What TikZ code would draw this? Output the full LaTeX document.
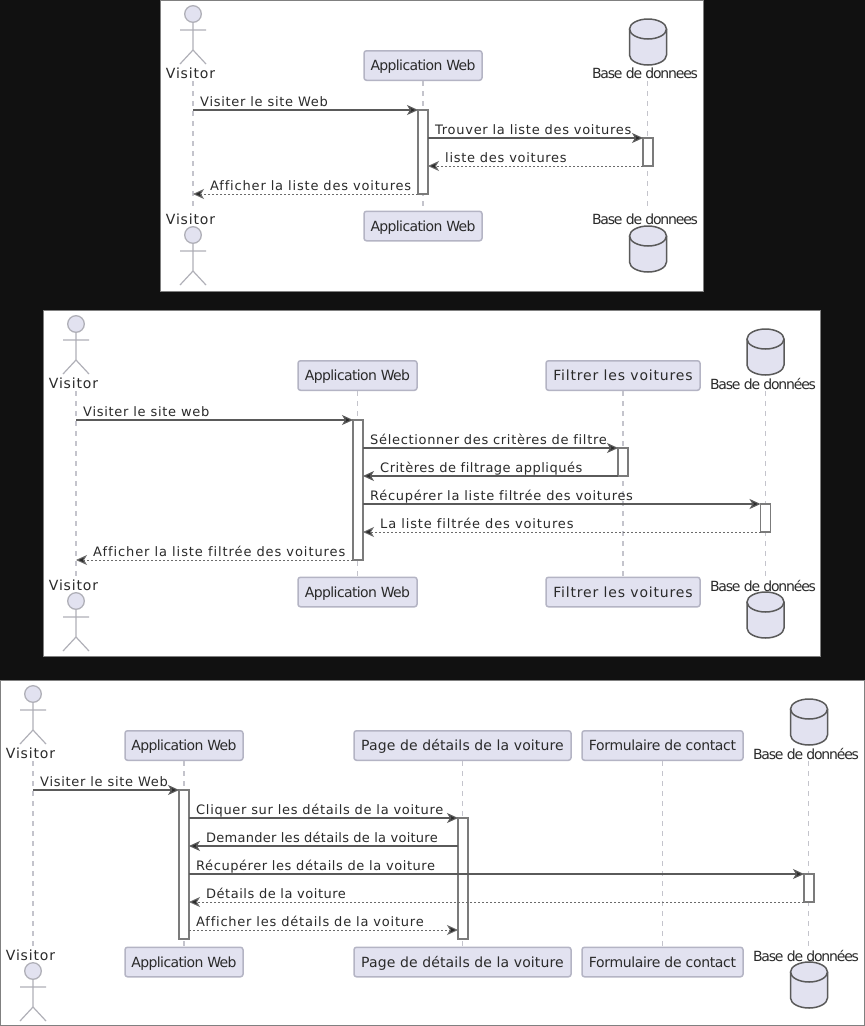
\documentclass[tikz,border=0pt]{standalone}
\usepackage{fontspec}
\setmainfont{DejaVu Sans}
\newfontfamily\msgfont[LetterSpace=5.5,Ligatures=NoCommon]{DejaVu Sans}
\newfontfamily\appfont[LetterSpace=-4.5]{DejaVu Sans}
\newfontfamily\sqfont[LetterSpace=-8.5]{DejaVu Sans}
\newfontfamily\filtfont[LetterSpace=5.9]{DejaVu Sans}
\newfontfamily\pagefont[LetterSpace=1.0]{DejaVu Sans}
\newfontfamily\formfont[LetterSpace=-2.5]{DejaVu Sans}
\newfontfamily\visfont[LetterSpace=6]{DejaVu Sans}
\newcommand{\spc}[1]{\addfontfeature{LetterSpace=#1,Ligatures=NoCommon}}
\usetikzlibrary{arrows.meta}
\definecolor{partfill}{HTML}{E2E2F0}
\definecolor{partline}{HTML}{B4B4C4}
\definecolor{darkline}{HTML}{5A5A5A}
\definecolor{inktext}{HTML}{2A2A2A}
\definecolor{lifegray}{HTML}{C4C4CC}
\definecolor{bgdark}{HTML}{111111}
\definecolor{panelline}{HTML}{808080}
\definecolor{figline}{HTML}{B0B0B8}
\tikzset{
  panel/.style={draw=panelline,fill=white,line width=1pt},
  partbox/.style={draw=partline,fill=partfill,line width=1.5pt,rounded corners=2.5pt,text=inktext,
    font=\fontsize{14}{16}\appfont,inner sep=0pt,minimum height=29.5pt,text height=12pt,text depth=2pt},
  lifeline/.style={draw=lifegray,line width=1.3pt,dash pattern=on 5pt off 5pt},
  actortext/.style={text=inktext,font=\fontsize{14}{16}\visfont,inner sep=0pt},
  dbtext/.style={text=inktext,font=\fontsize{14}{16}\sqfont,inner sep=0pt},
  msgtext/.style={text=inktext,font=\fontsize{13}{15}\msgfont,inner sep=0pt,anchor=base west,yshift=0.6pt},
  actbar/.style={draw=darkline!80,fill=white,line width=1.2pt,minimum width=10pt,inner sep=0pt,outer sep=0pt,anchor=north},
  solidmsg/.style={draw=darkline,line width=1.2pt,-{Stealth[inset=3pt,length=11pt,width=10pt,fill=inktext]}},
  dottedmsg/.style={draw=darkline!90,line width=1pt,dash pattern=on 2pt off 2pt,-{Stealth[inset=3pt,length=11pt,width=10pt,fill=inktext]}},
  actorline/.style={draw=figline,line width=1.2pt},
  actorhead/.style={draw=figline,fill=partfill,line width=1.3pt},
  dbshape/.style={draw=darkline,fill=partfill,line width=1.5pt},
}
% actor: head centre at (#1,#2)
\newcommand{\stickfig}[2]{%
  \draw[actorhead] (#1,#2) circle (8.3);
  \draw[actorline] (#1,#2+8) -- (#1,#2+36) (#1-13,#2+16) -- (#1+13,#2+16)
    (#1-13,#2+50) -- (#1,#2+36) -- (#1+13,#2+50);
}
% database: centre x #1, top y #2
\newcommand{\dbfig}[2]{%
  \draw[dbshape] (#1-18.5,#2+10) .. controls (#1-18.5,#2+4.5) and (#1-10,#2) .. (#1,#2)
     .. controls (#1+10,#2) and (#1+18.5,#2+4.5) .. (#1+18.5,#2+10)
     -- (#1+18.5,#2+36) .. controls (#1+18.5,#2+41.5) and (#1+10,#2+46) .. (#1,#2+46)
     .. controls (#1-10,#2+46) and (#1-18.5,#2+41.5) .. (#1-18.5,#2+36) -- cycle;
  \draw[dbshape,fill=none] (#1-18.5,#2+10) .. controls (#1-18.5,#2+15.5) and (#1-10,#2+20) .. (#1,#2+20)
     .. controls (#1+10,#2+20) and (#1+18.5,#2+15.5) .. (#1+18.5,#2+10);
}
\begin{document}
\begin{tikzpicture}[x=1pt,y=-1pt]
\fill[bgdark] (0,0) rectangle (865,1026);
\useasboundingbox (0,0) rectangle (865,1026);

%%%%%% Diagram 1
\draw[panel] (160.5,0.5) rectangle (703.5,291);
\stickfig{193}{14}
\stickfig{193}{235}
\dbfig{648}{19}
\dbfig{648}{226}
\node[actortext] (avt) at (190.5,73.5) {Visitor};
\node[actortext] (avb) at (190.5,219.5) {Visitor};
\node[partbox,minimum width=118pt] (aat) at (423,65.5) {Application Web};
\node[partbox,minimum width=118pt] (aab) at (423,226) {Application Web};
\node[dbtext] (adt) at (645,73.5) {Base de donnees};
\node[dbtext] (adb) at (645,219.5) {Base de donnees};
\coordinate (avl1) at (193,81);
\coordinate (avl2) at (193,210);
\coordinate (adl1) at (647.5,81);
\coordinate (adl2) at (647.5,210);
\draw[lifeline] (avl1) -- (avl2);
\draw[lifeline] (aat) -- (aab);
\draw[lifeline] (adl1) -- (adl2);
\node[actbar,minimum height=84pt] (aba) at (423,110) {};
\node[actbar,minimum height=28pt] (abd) at (648,138) {};
\draw[solidmsg] (avl1 |- aba.north) -- (aba.north west);
\draw[solidmsg] (aba.east |- abd.north) -- (abd.north west);
\draw[dottedmsg] (abd.south west) -- (aba.east |- abd.south);
\draw[dottedmsg] (aba.south west) -- (avl1 |- aba.south);
\node[msgtext] (am1) at (200,107) {Visiter le site Web};
\node[msgtext] (am2) at (435,135) {Trouver la liste des voitures};
\node[msgtext] (am3) at (445,163) {liste des voitures};
\node[msgtext] (am4) at (210,191) {\spc{6.3}Afficher la liste des voitures};

%%%%%% Diagram 2
\draw[panel] (43.5,310.5) rectangle (820.5,656);
\stickfig{76}{324}
\stickfig{76}{601}
\dbfig{765.5}{329}
\dbfig{765.5}{592}
\node[actortext] (bvt) at (73.5,383.5) {Visitor};
\node[actortext] (bvb) at (73.5,585.5) {Visitor};
\node[partbox,minimum width=119pt] (bat) at (357.5,375.5) {Application Web};
\node[partbox,minimum width=119pt] (bab) at (357.5,592) {Application Web};
\node[partbox,minimum width=154pt,font=\fontsize{14}{16}\filtfont] (bft) at (623,375.5) {Filtrer les voitures};
\node[partbox,minimum width=154pt,font=\fontsize{14}{16}\filtfont] (bfb) at (623,592) {Filtrer les voitures};
\node[dbtext] (bdt) at (763,383.5) {Base de données};
\node[dbtext] (bdb) at (763,585.5) {Base de données};
\coordinate (bvl1) at (76,391);
\coordinate (bvl2) at (76,576);
\coordinate (bdl1) at (765.5,391);
\coordinate (bdl2) at (765.5,576);
\draw[lifeline] (bvl1) -- (bvl2);
\draw[lifeline] (bat) -- (bab);
\draw[lifeline] (bft) -- (bfb);
\draw[lifeline] (bdl1) -- (bdl2);
\node[actbar,minimum height=140pt] (bba) at (358,420) {};
\node[actbar,minimum height=28pt] (bbf) at (623,448) {};
\node[actbar,minimum height=28pt] (bbd) at (765.5,504) {};
\draw[solidmsg] (bvl1 |- bba.north) -- (bba.north west);
\draw[solidmsg] (bba.east |- bbf.north) -- (bbf.north west);
\draw[solidmsg] (bbf.south west) -- (bba.east |- bbf.south);
\draw[solidmsg] (bba.east |- bbd.north) -- (bbd.north west);
\draw[dottedmsg] (bbd.south west) -- (bba.east |- bbd.south);
\draw[dottedmsg] (bba.south west) -- (bvl1 |- bba.south);
\node[msgtext] (bm1) at (83,417) {Visiter le site web};
\node[msgtext] (bm2) at (370,445) {\spc{5.2}Sélectionner des critères de filtre};
\node[msgtext] (bm3) at (380,473) {\spc{3.9}Critères de filtrage appliqués};
\node[msgtext] (bm4) at (370,501) {Récupérer la liste filtrée des voitures};
\node[msgtext] (bm5) at (380,529) {\spc{6.8}La liste filtrée des voitures};
\node[msgtext] (bm6) at (93,557) {\spc{7.1}Afficher la liste filtrée des voitures};

%%%%%% Diagram 3
\draw[panel] (0.5,680.5) rectangle (864.5,1025.5);
\stickfig{33}{694}
\stickfig{33}{971}
\dbfig{809}{699}
\dbfig{809}{962}
\node[actortext] (cvt) at (30.5,753.5) {Visitor};
\node[actortext] (cvb) at (30.5,955.5) {Visitor};
\node[partbox,minimum width=118pt] (cat) at (184,745.5) {Application Web};
\node[partbox,minimum width=118pt] (cab) at (184,962) {Application Web};
\node[partbox,minimum width=217pt,font=\fontsize{14}{16}\pagefont] (cpt) at (462.5,745.5) {Page de détails de la voiture};
\node[partbox,minimum width=217pt,font=\fontsize{14}{16}\pagefont] (cpb) at (462.5,962) {Page de détails de la voiture};
\node[partbox,minimum width=161pt,font=\fontsize{14}{16}\formfont] (cft) at (662.5,745.5) {Formulaire de contact};
\node[partbox,minimum width=161pt,font=\fontsize{14}{16}\formfont] (cfb) at (662.5,962) {Formulaire de contact};
\node[dbtext] (cdt) at (806,753.5) {Base de données};
\node[dbtext] (cdb) at (806,955.5) {Base de données};
\coordinate (cvl1) at (33,761);
\coordinate (cvl2) at (33,946);
\coordinate (cdl1) at (808.5,761);
\coordinate (cdl2) at (808.5,946);
\draw[lifeline] (cvl1) -- (cvl2);
\draw[lifeline] (cat) -- (cab);
\draw[lifeline] (cpt) -- (cpb);
\draw[lifeline] (cft) -- (cfb);
\draw[lifeline] (cdl1) -- (cdl2);
\node[actbar,minimum height=149pt] (cba) at (184,790) {};
\node[actbar,minimum height=121pt] (cbp) at (463,818) {};
\node[actbar,minimum height=28pt] (cbd) at (809,874) {};
\draw[solidmsg] (cvl1 |- cba.north) -- (cba.north west);
\draw[solidmsg] (cba.east |- cbp.north) -- (cbp.north west);
\draw[solidmsg] (cbp.west |- 0,846) -- (cba.east |- 0,846);
\draw[solidmsg] (cba.east |- cbd.north) -- (cbd.north west);
\draw[dottedmsg] (cbd.south west) -- (cba.east |- cbd.south);
\draw[dottedmsg] (cba.east |- 0,930) -- (cbp.west |- 0,930);
\node[msgtext] (cm1) at (40,787) {Visiter le site Web};
\node[msgtext] (cm2) at (196,815) {\spc{5.3}Cliquer sur les détails de la voiture};
\node[msgtext] (cm3) at (206,843) {\spc{2.0}Demander les détails de la voiture};
\node[msgtext] (cm4) at (196,871) {\spc{4.4}Récupérer les détails de la voiture};
\node[msgtext] (cm5) at (206,899) {\spc{4.0}Détails de la voiture};
\node[msgtext] (cm6) at (196,927) {\spc{6.0}Afficher les détails de la voiture};
\end{tikzpicture}
\end{document}
